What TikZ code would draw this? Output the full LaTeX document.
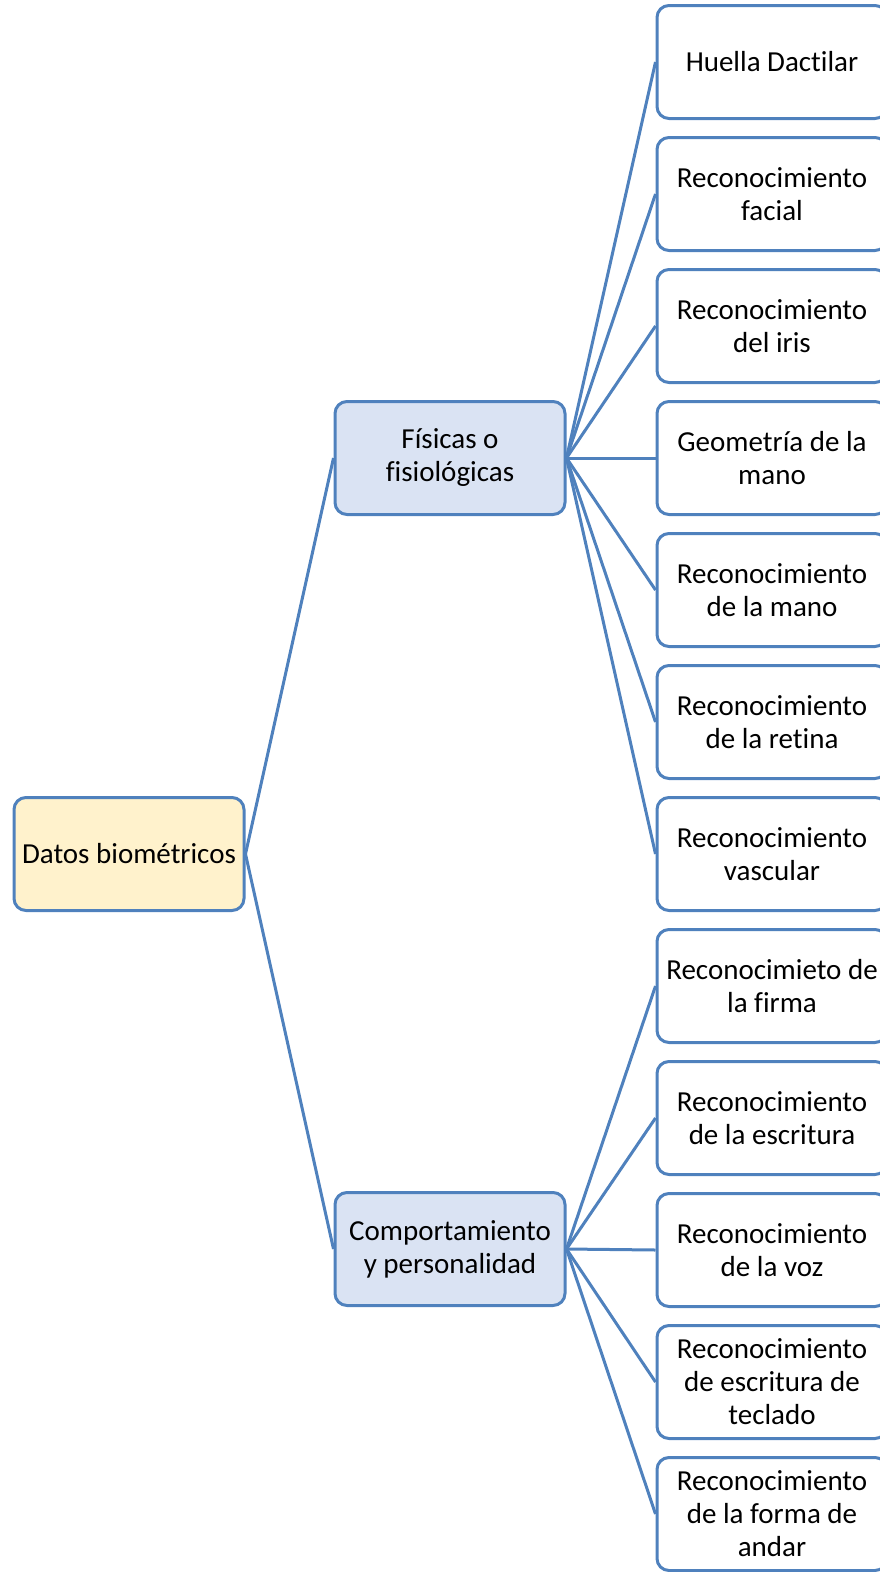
\documentclass[tikz,border=0pt]{standalone}
\usepackage{fontspec}
\setmainfont{Carlito}[Ligatures=CommonOff]
\definecolor{boxline}{RGB}{79,129,189}
\definecolor{rootfill}{RGB}{255,242,204}
\definecolor{midfill}{RGB}{218,227,243}
\tikzset{
  box/.style={draw=boxline,line width=3pt,rounded corners=12pt,
    minimum width=230pt,minimum height=113pt,inner sep=0pt,align=center,
    font=\fontsize{29}{33}\selectfont},
  rootbox/.style={box,fill=rootfill},
  midbox/.style={box,fill=midfill},
  leafbox/.style={box,fill=white},
  link/.style={draw=boxline,line width=3pt}
}
\begin{document}
\begin{tikzpicture}[x=1pt,y=-1pt]
\clip (0,0) rectangle (880,1572);
\node[rootbox] (datos) at(129,854) {Datos biométricos};
\node[midbox] (fisicas) at(450,458) {Físicas o\\fisiológicas};
\node[midbox] (comport) at(450,1249) {Comportamiento\\y personalidad};
\node[leafbox] (huella) at(772,62) {Huella Dactilar};
\node[leafbox] (facial) at(772,194) {Reconocimiento\\facial};
\node[leafbox] (iris) at(772,326) {Reconocimiento\\del iris};
\node[leafbox] (geom) at(772,458) {Geometría de la\\mano};
\node[leafbox] (mano) at(772,590) {Reconocimiento\\de la mano};
\node[leafbox] (retina) at(772,722) {Reconocimiento\\de la retina};
\node[leafbox] (vascular) at(772,854) {Reconocimiento\\vascular};
\node[leafbox] (firma) at(772,986) {Reconocimieto de\\la firma};
\node[leafbox] (escritura) at(772,1118) {Reconocimiento\\de la escritura};
\node[leafbox] (voz) at(772,1250) {Reconocimiento\\de la voz};
\node[leafbox] (teclado) at(772,1382) {Reconocimiento\\de escritura de\\teclado};
\node[leafbox] (andar) at(772,1514) {Reconocimiento\\de la forma de\\andar};
\draw[link] (datos.east) -- (fisicas.west);
\draw[link] (datos.east) -- (comport.west);
\draw[link] (fisicas.east) -- (huella.west);
\draw[link] (fisicas.east) -- (facial.west);
\draw[link] (fisicas.east) -- (iris.west);
\draw[link] (fisicas.east) -- (geom.west);
\draw[link] (fisicas.east) -- (mano.west);
\draw[link] (fisicas.east) -- (retina.west);
\draw[link] (fisicas.east) -- (vascular.west);
\draw[link] (comport.east) -- (firma.west);
\draw[link] (comport.east) -- (escritura.west);
\draw[link] (comport.east) -- (voz.west);
\draw[link] (comport.east) -- (teclado.west);
\draw[link] (comport.east) -- (andar.west);
\end{tikzpicture}
\end{document}
